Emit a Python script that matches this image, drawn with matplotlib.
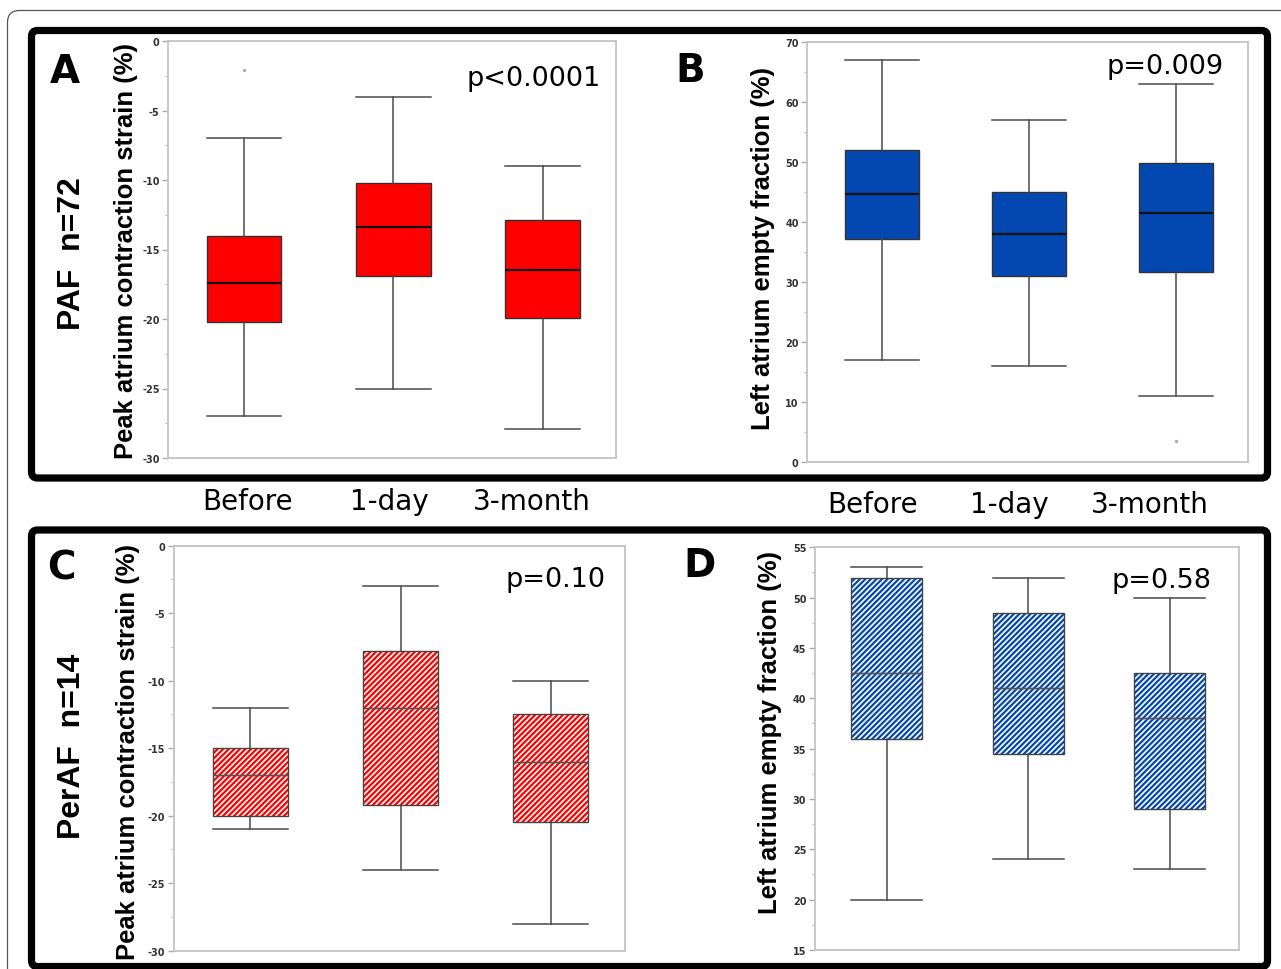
import matplotlib
matplotlib.use('Agg')
import matplotlib.pyplot as plt
from matplotlib import font_manager
from matplotlib.patches import FancyBboxPatch
from matplotlib.ticker import MultipleLocator, FormatStrFormatter

# ---------------- data ----------------
categories = ['Before', '1-day', '3-month']

paf_strain_whishi = [-7.0, -4.0, -9.0]
paf_strain_q3 = [-14.0, -10.2, -12.9]
paf_strain_med = [-17.4, -13.4, -16.5]
paf_strain_q1 = [-20.2, -16.9, -19.9]
paf_strain_whislo = [-27.0, -25.0, -27.9]
paf_strain_fliers = [[-2.1], [], []]

paf_laef_whishi = [67.0, 57.0, 63.0]
paf_laef_q3 = [52.0, 45.0, 49.8]
paf_laef_med = [44.6, 38.0, 41.5]
paf_laef_q1 = [37.1, 31.0, 31.7]
paf_laef_whislo = [17.0, 16.0, 11.0]
paf_laef_fliers = [[], [], [3.5]]

peraf_strain_whishi = [-12.0, -3.0, -10.0]
peraf_strain_q3 = [-15.0, -7.8, -12.5]
peraf_strain_med = [-17.0, -12.0, -16.0]
peraf_strain_q1 = [-20.0, -19.2, -20.5]
peraf_strain_whislo = [-21.0, -24.0, -28.0]
peraf_strain_fliers = [[], [], []]

peraf_laef_whishi = [53.0, 52.0, 50.0]
peraf_laef_q3 = [52.0, 48.5, 42.5]
peraf_laef_med = [42.5, 41.0, 38.0]
peraf_laef_q1 = [36.0, 34.5, 29.0]
peraf_laef_whislo = [20.0, 24.0, 23.0]
peraf_laef_fliers = [[], [], []]

p_values = ['p<0.0001', 'p=0.009', 'p=0.10', 'p=0.58']
panel_letters = ['A', 'B', 'C', 'D']
group_labels = ['PAF  n=72', 'PerAF  n=14']
ylabel_strain = 'Peak atrium contraction strain (%)'
ylabel_laef = 'Left atrium empty fraction (%)'

# ---------------- setup ----------------
W, H = 1281, 970
plt.rcParams['axes.unicode_minus'] = False
plt.rcParams['hatch.linewidth'] = 1.6
fig = plt.figure(figsize=(W / 100, H / 100), dpi=100)

names = {f.name for f in font_manager.fontManager.ttflist}
if 'Liberation Sans Narrow' in names:
    NARROW, NSCALE = 'Liberation Sans Narrow', 1.0
else:
    NARROW, NSCALE = 'Liberation Sans', 0.82

RED = '#ff0000'
BLUE = '#0348b0'
SPINE = '#c4c4c4'


def px_ax(l, t, r, b):
    return fig.add_axes([l / W, 1 - b / H, (r - l) / W, (b - t) / H])


def stats(whislo, q1, med, q3, whishi, fliers):
    out = []
    for i in range(len(med)):
        out.append(dict(whislo=whislo[i], q1=q1[i], med=med[i], q3=q3[i],
                        whishi=whishi[i], fliers=fliers[i]))
    return out


def panel(ax, st, color, hatched, ylim, major, minor):
    pos = [1, 2, 3]
    common = dict(positions=pos, widths=0.5, capwidths=0.5, manage_ticks=False)
    wprops = dict(color='#4a4a4a', linewidth=1.1)
    fprops = dict(marker='o', markersize=1.4, markerfacecolor='#aaaaaa',
                  markeredgecolor='#aaaaaa', linestyle='none')
    if not hatched:
        ax.bxp(st, patch_artist=True,
               boxprops=dict(facecolor=color, edgecolor='#333333', linewidth=1.0),
               medianprops=dict(color='#111111', linewidth=1.6),
               whiskerprops=wprops, capprops=wprops, flierprops=fprops, **common)
    else:
        ax.bxp(st, patch_artist=True,
               boxprops=dict(facecolor='white', edgecolor=color, hatch='//////',
                             linewidth=0),
               medianprops=dict(color='#555555', linewidth=1.0),
               whiskerprops=wprops, capprops=wprops, flierprops=fprops, **common)
        ax.bxp(st, patch_artist=True, showcaps=False, showfliers=False,
               boxprops=dict(facecolor='none', edgecolor='#444444', linewidth=1.0),
               medianprops=dict(color='#555555', linewidth=1.0),
               whiskerprops=dict(linewidth=0), **common)
    ax.set_xlim(0.49, 3.49)
    ax.set_ylim(*ylim)
    ax.set_xticks([])
    ax.yaxis.set_major_locator(MultipleLocator(major))
    ax.yaxis.set_minor_locator(MultipleLocator(minor))
    ax.yaxis.set_major_formatter(FormatStrFormatter('%d'))
    ax.tick_params(axis='y', which='major', length=4, width=1, color='#aaaaaa',
                   labelsize=7, labelcolor='#333333', pad=2)
    ax.tick_params(axis='y', which='minor', length=2.5, width=0.8, color='#bbbbbb')
    for lab in ax.get_yticklabels():
        lab.set_fontweight('bold')
    for s in ax.spines.values():
        s.set_color(SPINE)
        s.set_linewidth(1.3)


# ---------------- frames ----------------
def frame(x0, y0, x1, y1, lw, color, rs):
    p = FancyBboxPatch((x0 / 100, (H - y1) / 100), (x1 - x0) / 100, (y1 - y0) / 100,
                       boxstyle='round,pad=0,rounding_size=%f' % rs,
                       transform=fig.dpi_scale_trans, facecolor='none',
                       edgecolor=color, linewidth=lw, clip_on=False)
    fig.add_artist(p)


frame(7.5, 11.5, 1300, 1000, 0.9, '#555555', 0.12)
frame(31.5, 31.5, 1267.5, 479, 5.2, 'black', 0.06)
frame(31.5, 531, 1267.5, 967.5, 5.2, 'black', 0.06)

# ---------------- panels ----------------
axA = px_ax(168, 42, 616, 459)
panel(axA, stats(paf_strain_whislo, paf_strain_q1, paf_strain_med, paf_strain_q3,
                 paf_strain_whishi, paf_strain_fliers), RED, False, (-30, 0), 5, 2.5)
axB = px_ax(807, 42.7, 1248, 462.7)
panel(axB, stats(paf_laef_whislo, paf_laef_q1, paf_laef_med, paf_laef_q3,
                 paf_laef_whishi, paf_laef_fliers), BLUE, False, (0, 70), 10, 5)
axC = px_ax(173.5, 546.7, 624.5, 951.7)
panel(axC, stats(peraf_strain_whislo, peraf_strain_q1, peraf_strain_med, peraf_strain_q3,
                 peraf_strain_whishi, peraf_strain_fliers), RED, True, (-30, 0), 5, 2.5)
axD = px_ax(814.7, 548.3, 1239, 951)
panel(axD, stats(peraf_laef_whislo, peraf_laef_q1, peraf_laef_med, peraf_laef_q3,
                 peraf_laef_whishi, peraf_laef_fliers), BLUE, True, (15, 55), 5, 2.5)


def ftext(x, y, s, **kw):
    fig.text(x / W, 1 - y / H, s, **kw)


# p-values (right aligned, baseline)
ftext(601, 86, p_values[0], ha='right', va='baseline', fontsize=19.5, family='DejaVu Sans')
ftext(1224, 74, p_values[1], ha='right', va='baseline', fontsize=19.5, family='DejaVu Sans')
ftext(606, 587, p_values[2], ha='right', va='baseline', fontsize=19.5, family='DejaVu Sans')
ftext(1211, 588, p_values[3], ha='right', va='baseline', fontsize=19.5, family='DejaVu Sans')

# panel letters
for (x, y), L in zip([(50, 83), (675, 82), (47, 580), (683, 577)], panel_letters):
    ftext(x, y, L, ha='left', va='baseline', fontsize=28, fontweight='bold',
          family='DejaVu Sans')

# group labels
ftext(72, 254, group_labels[0], rotation=90, ha='center', va='center',
      fontsize=28 * NSCALE, fontweight='bold', family=NARROW)
ftext(72, 746, group_labels[1], rotation=90, ha='center', va='center',
      fontsize=28 * NSCALE, fontweight='bold', family=NARROW)

# y labels
for (x, y), s in zip([(126, 251), (763, 248), (128, 752), (770, 733)],
                     [ylabel_strain, ylabel_laef, ylabel_strain, ylabel_laef]):
    ftext(x, y, s, rotation=90, ha='center', va='center', fontsize=22.5 * NSCALE,
          fontweight='bold', family=NARROW)

# x category labels under top frame
for x, c in zip([247.5, 389, 531.6], categories):
    ftext(x, 502, c, ha='center', va='center', fontsize=20, family='DejaVu Sans')
for x, c in zip([873, 1009, 1150], categories):
    ftext(x, 505, c, ha='center', va='center', fontsize=20, family='DejaVu Sans')

fig.savefig('out.png', dpi=100)
